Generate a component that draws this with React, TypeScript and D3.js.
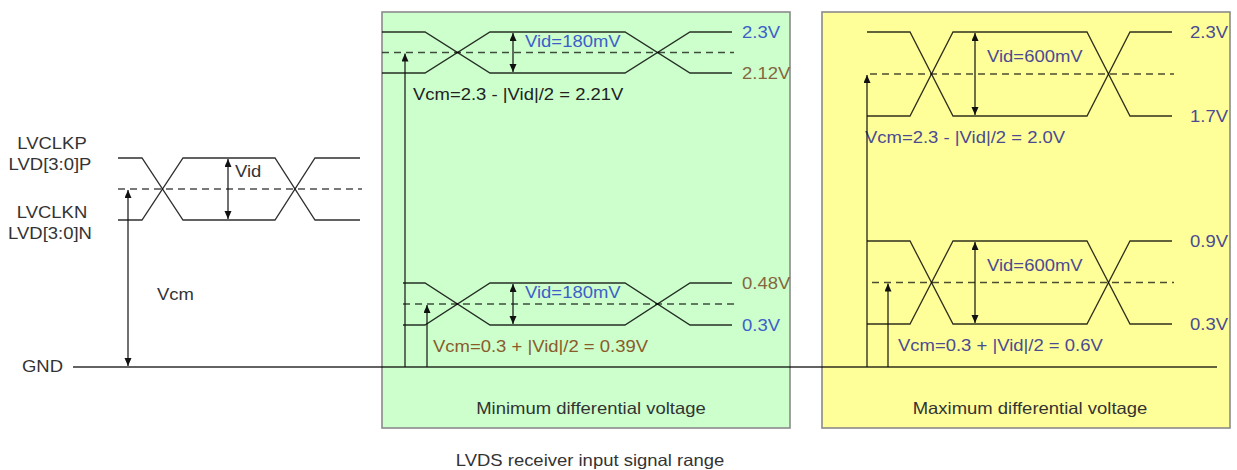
import React from "react";
import * as d3 from "d3";

const W = 1237;
const H = 470;
const SX = 1.12;
const FONT = "'Liberation Sans', Arial, Helvetica, sans-serif";
const FS = 16.5;

// ---- data ----
const leftLabelsP = ["LVCLKP", "LVD[3:0]P"];
const leftLabelsN = ["LVCLKN", "LVD[3:0]N"];
const panelTitles = ["Minimum differential voltage", "Maximum differential voltage"];
const chartTitle = "LVDS receiver input signal range";
const highV = [[2.3, 0.48], [2.3, 0.9]];
const lowV = [[2.12, 0.3], [1.7, 0.3]];
const highLabels = [["2.3V", "0.48V"], ["2.3V", "0.9V"]];
const lowLabels = [["2.12V", "0.3V"], ["1.7V", "0.3V"]];
const vidTexts = ["Vid=180mV", "Vid=600mV"];
const vcmFormulas = [
  ["Vcm=2.3 - |Vid|/2 = 2.21V", "Vcm=0.3 + |Vid|/2 = 0.39V"],
  ["Vcm=2.3 - |Vid|/2 = 2.0V", "Vcm=0.3 + |Vid|/2 = 0.6V"],
];
// waveform edge times: start, 1st edge begin, 1st edge end, 2nd edge begin, 2nd edge end, end
const edgeTimes = [0, 1, 2, 3, 4, 5];

// ---- colours ----
const BLUE = "#3d60c8";
const BROWN = "#86663e";
const SLATE = "#4b4b92";
const TXT = "#333";
const LINE = "rgba(0,0,0,0.82)";
const DASH = "rgba(0,0,0,0.7)";

const highColors = [[BLUE, BROWN], [SLATE, SLATE]];
const lowColors = [[BROWN, BLUE], [SLATE, SLATE]];
const vidColors = [BLUE, SLATE];
const formulaColors = [["#222", "#8b5a2b"], [SLATE, SLATE]];

// ---- layout ----
const GND_Y = 367;
const panels = [
  {
    box: [382, 12, 408, 416],
    fill: "#ccffcc",
    xs: [
      [382, 425, 490, 625, 690, 732],
      [403, 425, 490, 625, 690, 732],
    ],
    ys: [
      [32, 73],
      [283, 325],
    ],
    vidX: 513,
    longX: 405,
    shortX: 427,
    labelX: 742,
    formulaX: [413, 433],
    titleX: 591,
  },
  {
    box: [822, 12, 408, 416],
    fill: "#ffff99",
    xs: [
      [867, 910, 953, 1087, 1130, 1172],
      [867, 910, 953, 1087, 1130, 1172],
    ],
    ys: [
      [32, 116],
      [241, 324],
    ],
    vidX: 975,
    longX: 867,
    shortX: 888,
    labelX: 1190,
    formulaX: [865, 898],
    titleX: 1030,
  },
];

const line = d3.line<[number, number]>();

function Txt(props: { x: number; y: number; fill?: string; anchor?: string; children: React.ReactNode }) {
  const { x, y, fill = TXT, anchor = "start", children } = props;
  return (
    <text
      transform={`translate(${x},${y}) scale(${SX},1)`}
      textAnchor={anchor as any}
      fontFamily={FONT}
      fontSize={FS}
      fill={fill}
    >
      {children}
    </text>
  );
}

function Wave(props: { xs: number[]; yHigh: number; yLow: number; dashX0?: number }) {
  const { xs, yHigh, yLow } = props;
  const x = d3.scaleLinear().domain(edgeTimes).range(xs);
  const t = edgeTimes;
  const a: [number, number][] = [
    [x(t[0]), yHigh], [x(t[1]), yHigh], [x(t[2]), yLow], [x(t[3]), yLow], [x(t[4]), yHigh], [x(t[5]), yHigh],
  ];
  const b: [number, number][] = [
    [x(t[0]), yLow], [x(t[1]), yLow], [x(t[2]), yHigh], [x(t[3]), yHigh], [x(t[4]), yLow], [x(t[5]), yLow],
  ];
  const yMid = (yHigh + yLow) / 2;
  return (
    <g>
      <path d={line(a) || ""} fill="none" stroke={LINE} strokeWidth={1.3} />
      <path d={line(b) || ""} fill="none" stroke={LINE} strokeWidth={1.3} />
      <line
        x1={props.dashX0 ?? x(t[0])}
        x2={x(t[5]) + 2}
        y1={yMid}
        y2={yMid}
        stroke={DASH}
        strokeWidth={1.3}
        strokeDasharray="7,5"
      />
    </g>
  );
}

export default function App() {
  return (
    <svg
      width={W}
      height={H}
      viewBox={`0 0 ${W} ${H}`}
      style={{ position: "absolute", left: 0, top: 0, background: "#fff" }}
    >
      <defs>
        <marker
          id="ah"
          markerUnits="userSpaceOnUse"
          markerWidth={8}
          markerHeight={8}
          refX={8}
          refY={3.5}
          orient="auto-start-reverse"
        >
          <path d="M0,0 L8,3.5 L0,7 Z" fill="#111" />
        </marker>
      </defs>

      {/* panel boxes */}
      {panels.map((p, i) => (
        <rect
          key={"box" + i}
          x={p.box[0]}
          y={p.box[1]}
          width={p.box[2]}
          height={p.box[3]}
          fill={p.fill}
          stroke="#8a8a8a"
          strokeWidth={1.6}
        />
      ))}

      {/* GND line */}
      <line x1={73} x2={1217} y1={GND_Y} y2={GND_Y} stroke={LINE} strokeWidth={1.4} />
      <Txt x={22} y={372}>GND</Txt>

      {/* left generic diagram */}
      <Wave xs={[118, 142, 183, 275, 315, 360]} yHigh={158} yLow={220} />
      <line x1={228} x2={228} y1={159} y2={219} stroke="#111" strokeWidth={1.2} markerStart="url(#ah)" markerEnd="url(#ah)" />
      <line x1={128} x2={128} y1={190} y2={366} stroke="#111" strokeWidth={1.2} markerStart="url(#ah)" markerEnd="url(#ah)" />
      <Txt x={235} y={177}>Vid</Txt>
      <Txt x={157} y={300}>Vcm</Txt>
      <Txt x={52} y={149} anchor="middle">{leftLabelsP[0]}</Txt>
      <Txt x={50} y={170} anchor="middle">{leftLabelsP[1]}</Txt>
      <Txt x={52} y={218} anchor="middle">{leftLabelsN[0]}</Txt>
      <Txt x={50} y={239} anchor="middle">{leftLabelsN[1]}</Txt>

      {/* panels */}
      {panels.map((p, i) => {
        const mids = p.ys.map((yy, k) => {
          const ys = d3.scaleLinear().domain([lowV[i][k], highV[i][k]]).range([yy[1], yy[0]]);
          return ys((lowV[i][k] + highV[i][k]) / 2);
        });
        return (
          <g key={"p" + i}>
            {p.ys.map((yy, k) => {
              const ys = d3.scaleLinear().domain([lowV[i][k], highV[i][k]]).range([yy[1], yy[0]]);
              const yH = ys(highV[i][k]);
              const yL = ys(lowV[i][k]);
              return (
                <g key={"w" + k}>
                  <Wave xs={p.xs[k]} yHigh={yH} yLow={yL} dashX0={p.xs[k][0] + (i === 1 ? 3 + 2 * k : 0)} />
                  <line x1={p.vidX} x2={p.vidX} y1={yH + 1} y2={yL - 1} stroke="#111" strokeWidth={1.2} markerStart="url(#ah)" markerEnd="url(#ah)" />
                  <Txt x={p.vidX + 12} y={yH + (yL - yH) * 0.36} fill={vidColors[i]}>{vidTexts[i]}</Txt>
                  <Txt x={p.formulaX[k]} y={yL + 27} fill={formulaColors[i][k]}>{vcmFormulas[i][k]}</Txt>
                  <Txt x={p.labelX} y={yH + 6} fill={highColors[i][k]}>{highLabels[i][k]}</Txt>
                  <Txt x={p.labelX} y={yL + 6} fill={lowColors[i][k]}>{lowLabels[i][k]}</Txt>
                </g>
              );
            })}
            <line x1={p.longX} x2={p.longX} y1={GND_Y} y2={mids[0] + 1} stroke="#111" strokeWidth={1.2} markerEnd="url(#ah)" />
            <line x1={p.shortX} x2={p.shortX} y1={GND_Y} y2={mids[1] + 1} stroke="#111" strokeWidth={1.2} markerEnd="url(#ah)" />
            <Txt x={p.titleX} y={414} anchor="middle">{panelTitles[i]}</Txt>
          </g>
        );
      })}

      <Txt x={590} y={466} anchor="middle">{chartTitle}</Txt>
    </svg>
  );
}
